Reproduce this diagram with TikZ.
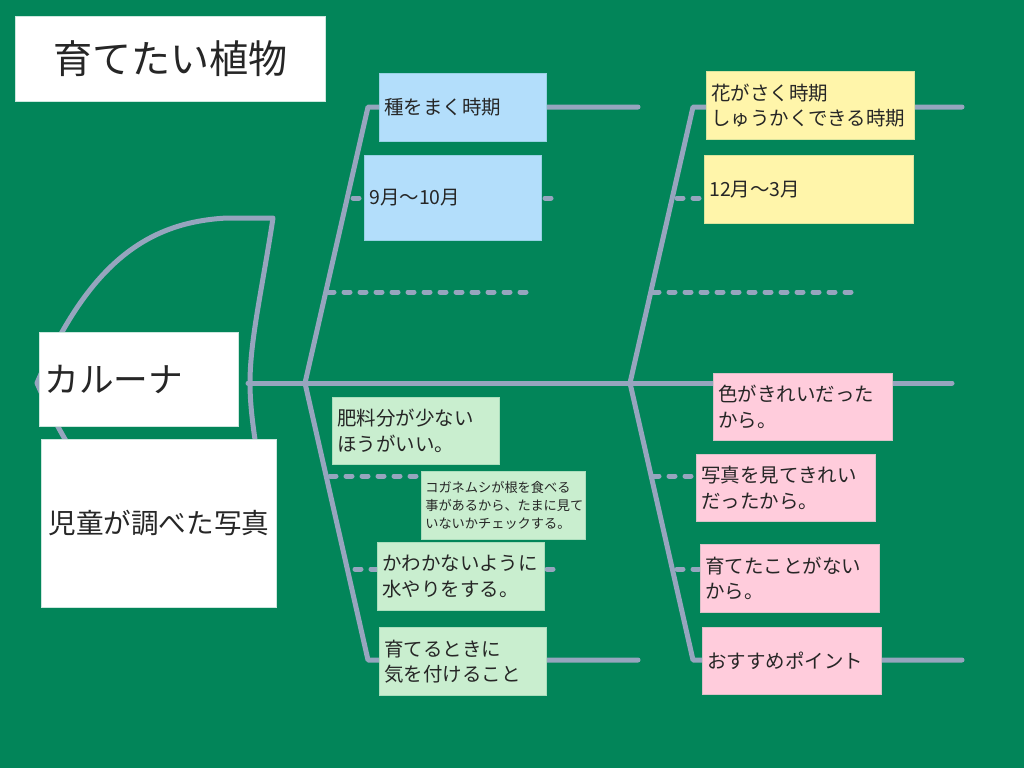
\documentclass[tikz,border=0pt]{standalone}
\usepackage{fontspec}
\setmainfont{Noto Sans CJK JP}
\definecolor{bg}{RGB}{2,133,89}
\definecolor{bone}{RGB}{150,165,190}
\definecolor{cblue}{RGB}{179,222,251}
\definecolor{cyellow}{RGB}{255,245,170}
\definecolor{cgreen}{RGB}{201,238,207}
\definecolor{cpink}{RGB}{255,204,220}
\newcommand\pbox[7]{%
  \pgfmathsetmacro\bw{(#4-#2)*0.75-7.5}%
  \pgfmathsetmacro\bh{(#5-#3)*0.75}%
  \node[box,#6,text width=\bw pt,minimum height=\bh pt,anchor=north west] (#1) at (#2,#3) {#7};}
\begin{document}
\begin{tikzpicture}[x=0.75pt,y=-0.75pt,
  box/.style={rectangle,inner xsep=3.75pt,inner ysep=0pt,align=left,
    font=\fontsize{14.6}{19}\selectfont,text=black!85},
  wbox/.style={fill=white,draw=white!80!bg,line width=0.5pt},
  bbox/.style={fill=cblue,draw=cblue!85!bg,line width=0.5pt},
  ybox/.style={fill=cyellow,draw=cyellow!85!bg,line width=0.5pt},
  gbox/.style={fill=cgreen,draw=cgreen!85!bg,line width=0.5pt},
  pbx/.style={fill=cpink,draw=cpink!85!bg,line width=0.5pt},
  boneline/.style={draw=bone,line width=3.75pt,line cap=round,line join=round},
  dashline/.style={draw=bone,line width=3.75pt,line cap=round,dash pattern=on 4.5pt off 7.5pt}]
\useasboundingbox (0,0) rectangle (1024,768);
\fill[bg] (0,0) rectangle (1024,768);
% fish head
\draw[boneline] (37,383) .. controls (90,260) and (150,222) .. (227,218) -- (273,218)
  .. controls (262,290) and (250,340) .. (250,383)
  .. controls (250,426) and (262,476) .. (273,548) -- (227,548)
  .. controls (150,544) and (90,506) .. cycle;
% coordinates
\coordinate (sp0) at (248,383);
\coordinate (sp1) at (952,383);
\coordinate (jl) at (305,383);
\coordinate (jr) at (630,383);
\coordinate (ul) at (368,107);
\coordinate (ule) at (638,107);
\coordinate (ur) at (693,107);
\coordinate (ure) at (962,107);
\coordinate (ll) at (368,660);
\coordinate (lle) at (638,660);
\coordinate (lr) at (693,660);
\coordinate (lre) at (962,660);
% bones
\draw[boneline] (sp0) -- (sp1);
\draw[boneline] (jl) -- (ul) -- (ule);
\draw[boneline] (jr) -- (ur) -- (ure);
\draw[boneline] (jl) -- (ll) -- (lle);
\draw[boneline] (jr) -- (lr) -- (lre);
% dashed sub-bones
\coordinate (d1a) at (353,198); \coordinate (d1b) at (560,198);
\coordinate (d2a) at (328,292); \coordinate (d2b) at (535,292);
\coordinate (d3a) at (677,198); \coordinate (d3b) at (720,198);
\coordinate (d4a) at (653,292); \coordinate (d4b) at (858,292);
\coordinate (d5a) at (330,476); \coordinate (d5b) at (430,476);
\coordinate (d6a) at (355,569); \coordinate (d6b) at (560,569);
\coordinate (d7a) at (653,476); \coordinate (d7b) at (700,476);
\coordinate (d8a) at (677,569); \coordinate (d8b) at (883,569);
\foreach \i in {1,...,8} {\draw[dashline] (d\i a) -- (d\i b);}
% boxes
\pbox{title}{15}{16}{325}{101}{wbox,align=center,font=\fontsize{29.3}{34}\selectfont}{育てたい植物}
\pbox{plant}{39}{332}{238}{426}{wbox,font=\fontsize{26}{30}\selectfont}{カルーナ}
\pbox{photo}{41}{439}{276}{607}{wbox,align=center,font=\fontsize{20.7}{25}\selectfont}{児童が調べた写真}
\pbox{sow}{379}{73}{546}{141}{bbox}{種をまく時期}
\pbox{sowm}{364}{155}{541}{240}{bbox}{9月〜10月}
\pbox{bloom}{706}{71}{914}{139}{ybox}{花がさく時期\\しゅうかくできる時期}
\pbox{bloomm}{704}{155}{913}{223}{ybox}{12月〜3月}
\pbox{fert}{332}{397}{499}{464}{gbox}{肥料分が少ない\\ほうがいい。}
\pbox{bug}{421}{471}{587}{539}{gbox,inner xsep=3pt,font=\fontsize{9.9}{13.5}\selectfont}{コガネムシが根を食べる\\事があるから、たまに見て\\いないかチェックする。}
\pbox{water}{377}{542}{544}{610}{gbox}{かわかないように\\水やりをする。}
\pbox{care}{379}{627}{546}{695}{gbox}{育てるときに\\気を付けること}
\pbox{color}{713}{373}{892}{440}{pbx}{色がきれいだった\\から。}
\pbox{pic}{696}{454}{875}{521}{pbx}{写真を見てきれい\\だったから。}
\pbox{never}{700}{544}{879}{612}{pbx}{育てたことがない\\から。}
\pbox{point}{702}{627}{881}{694}{pbx}{おすすめポイント}
\end{tikzpicture}
\end{document}
